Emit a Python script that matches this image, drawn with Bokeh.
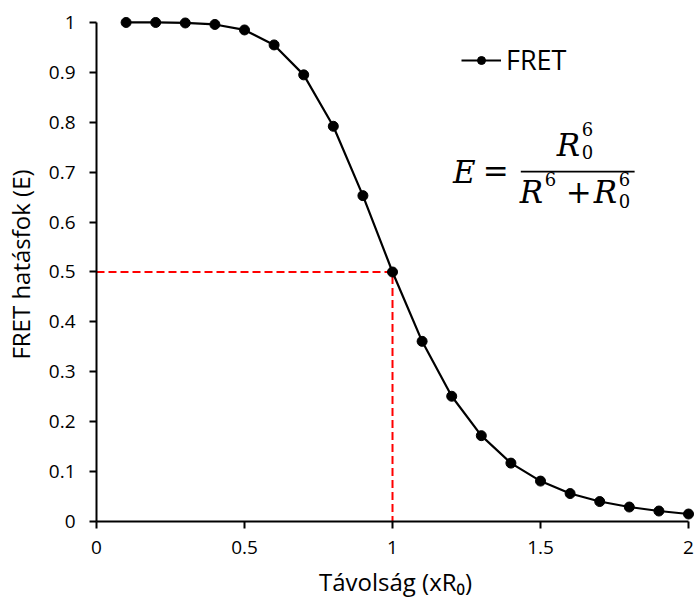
from bokeh.plotting import figure
from bokeh.models import (Range1d, FixedTicker, Legend, LegendItem, Label,
                          BoxAnnotation, CustomJSTickFormatter)
from bokeh.embed import file_html
from bokeh.resources import INLINE

# ---- data ----
distance = [0.1, 0.2, 0.3, 0.4, 0.5, 0.6, 0.7, 0.8, 0.9, 1.0,
            1.1, 1.2, 1.3, 1.4, 1.5, 1.6, 1.7, 1.8, 1.9, 2.0]
fret_eff = [1.000, 1.000, 0.999, 0.996, 0.985, 0.955, 0.895, 0.792, 0.653, 0.500,
            0.361, 0.251, 0.172, 0.117, 0.081, 0.056, 0.040, 0.029, 0.021, 0.015]
half_x = [0.0, 1.0, 1.0]
half_y = [0.5, 0.5, 0.0]
x_ticks = [0, 0.5, 1, 1.5, 2]
y_ticks = [0, 0.1, 0.2, 0.3, 0.4, 0.5, 0.6, 0.7, 0.8, 0.9, 1.0]
series_name = "FRET"
x_label = "Távolság (xR\u2080)"
y_label = "FRET hatásfok (E)"

W, H = 695, 601
LEFT, RIGHT, TOP, BOTTOM = 95, 1, 7, 80
p = figure(width=W, height=H, output_backend="svg", toolbar_location=None,
           x_range=Range1d(0, 2.0202), y_range=Range1d(0, 1.03),
           min_border_left=LEFT, min_border_right=RIGHT,
           min_border_top=TOP, min_border_bottom=BOTTOM)
p.outline_line_color = None
p.xgrid.visible = False
p.ygrid.visible = False
p.background_fill_color = "white"
p.border_fill_color = "white"

FONT = "Open Sans"
for ax in (p.xaxis[0], p.yaxis[0]):
    ax.axis_line_color = "black"
    ax.axis_line_width = 2
    ax.major_tick_line_color = "black"
    ax.major_tick_line_width = 2
    ax.major_tick_in = 0
    ax.major_tick_out = 7
    ax.minor_tick_line_color = None
    ax.major_label_text_font = FONT
    ax.major_label_text_font_size = "19px"
    ax.major_label_text_color = "black"
    ax.axis_label_text_font = FONT
    ax.axis_label_text_font_size = "24px"
    ax.axis_label_text_font_style = "normal"
    ax.axis_label_text_color = "black"

fmt = CustomJSTickFormatter(code="return String(Math.round(tick*10)/10);")
p.xaxis[0].ticker = FixedTicker(ticks=x_ticks)
p.yaxis[0].ticker = FixedTicker(ticks=y_ticks)
p.xaxis[0].formatter = fmt
p.yaxis[0].formatter = fmt
p.xaxis[0].bounds = (0, 2)
p.yaxis[0].bounds = (0, 1)
p.xaxis[0].axis_label = x_label
p.yaxis[0].axis_label = y_label
p.xaxis[0].major_label_standoff = 12
p.yaxis[0].major_label_standoff = 14
p.xaxis[0].axis_label_standoff = 8
p.yaxis[0].axis_label_standoff = 9

# red dashed guide at half efficiency
p.line(half_x, half_y, line_color="#ff0000", line_width=2, line_dash="8 4")

# main series
r_line = p.line(distance, fret_eff, line_color="black", line_width=2.2)
r_pts = p.scatter(distance, fret_eff, size=10, fill_color="black", line_color="black")

legend = Legend(items=[LegendItem(label=series_name, renderers=[r_line, r_pts])],
                location=(365, 443), orientation="vertical")
legend.border_line_color = None
legend.background_fill_alpha = 0
legend.padding = 0
legend.margin = 0
legend.glyph_width = 40
legend.glyph_height = 20
legend.label_standoff = 5
legend.label_text_font = FONT
legend.label_text_font_size = "27px"
legend.label_text_color = "black"
p.add_layout(legend, "center")

# ---- formula  E = R0^6 / (R^6 + R0^6) as real text ----
def dx(px):
    return (px - LEFT) / 296.5

def dy(py):
    return (521.0 - py) / 499.0

MF = "DejaVu Serif"
BIG = 31
SMALL = 18

def put(txt, px, py, size, style="normal"):
    shift = 0.35 * size
    p.add_layout(Label(x=dx(px), y=dy(py - shift), text=txt, text_font=MF,
                       text_font_size=f"{size}px", text_font_style=style,
                       text_color="black", text_align="left",
                       text_baseline="alphabetic"))

put("E", 452, 182, BIG, "italic")
put("=", 482, 181, BIG)
# numerator
put("R", 556, 155, BIG, "italic")
put("6", 581, 135, SMALL)
put("0", 581, 158, SMALL)
# fraction bar
p.add_layout(BoxAnnotation(left=dx(520), right=dx(634), bottom=dy(172), top=dy(170.3),
                           fill_color="black", fill_alpha=1, line_color=None))
# denominator
put("R", 519, 202, BIG, "italic")
put("6", 544, 185, SMALL)
put("+", 565, 202, BIG)
put("R", 593, 202, BIG, "italic")
put("6", 618, 185, SMALL)
put("0", 618, 207, SMALL)

open("out.html", "w").write(file_html(p, INLINE))
